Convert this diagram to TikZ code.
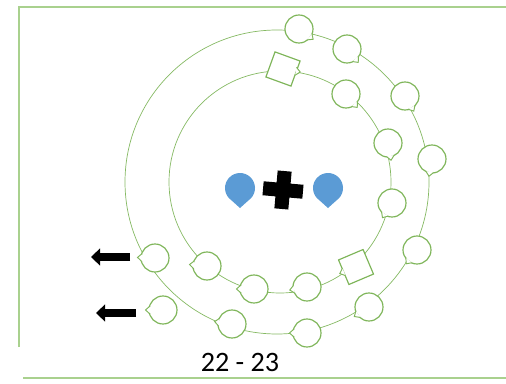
\documentclass[tikz,border=0pt]{standalone}
\usepackage{fontspec}
\setmainfont{Carlito}
\usetikzlibrary{calc,arrows.meta,positioning}
\definecolor{cOrb}{HTML}{70AD47}
\definecolor{cFrame}{HTML}{A9D18E}
\definecolor{cNuc}{HTML}{5B9BD5}
\tikzset{
  orb/.style={cOrb!85,line width=.6pt},
  frm/.style={cFrame,line width=1.5pt},
  elec/.style={circle,draw=cOrb!90,fill=white,line width=1pt,inner sep=0pt,minimum size=.84cm},
  hole/.style={rectangle,draw=cOrb!90,fill=white,line width=1pt,inner sep=0pt,minimum size=.8cm},
  ptr/.style={draw=cOrb!90,fill=white,line width=.8pt,line join=miter},
  nuc/.style={fill=cNuc},
  outarr/.style={-{Triangle[length=.27cm,width=.5cm]},line width=.22cm,black},
  lbl/.style={font=\fontsize{24}{28}\selectfont},
}

\begin{document}
\begin{tikzpicture}[x=.03cm,y=.03cm]
  \useasboundingbox (0,0) rectangle (506,383);
  % frame
  \draw[frm] (19,36) -- (19,376) -- (506,376);
  \draw[frm] (23,5) -- (506,5);
  % shells
  \coordinate (co) at (277,201);
  \coordinate (ci) at (280,201);
  \draw[orb] (co) circle[radius=152];
  \draw[orb] (ci) circle[radius=111];
  % outer shell
  \node[elec] (o1) at (299,354) {};
  \node[elec] (o2) at (347,334) {};
  \node[elec] (o3) at (405,287) {};
  \node[elec] (o4) at (432,224) {};
  \node[elec] (o5) at (417,133) {};
  \node[elec] (o6) at (369,76) {};
  \node[elec] (o7) at (307,50) {};
  \node[elec] (o8) at (232,59) {};
  \node[elec] (o9) at (155,125) {};
  \node[elec] (ol) at (163,73) {};
  % inner shell
  \node[hole,rotate=-20] (i1) at (283,314) {};
  \node[elec] (i2) at (346,289) {};
  \node[elec] (i3) at (388,240) {};
  \node[elec] (i4) at (392,180) {};
  \node[hole,rotate=23] (i5) at (356,116) {};
  \node[elec] (i6) at (307,96) {};
  \node[elec] (i7) at (254,94) {};
  \node[elec] (i8) at (207,117) {};
  % pointers
  \foreach \n/\t in {o1/-36,o2/-50,o3/-60,o4/-100,o5/-128,o6/-147,o7/180,o8/172,o9/178,ol/180,
                     i1/-10,i2/-50,i3/-80,i4/-123,i5/-158,i6/-170,i7/180,i8/175}
    \draw[ptr] ($(\n.center)+({\t+17}:13.6)$) -- ($(\n.center)+(\t:17.5)$) -- ($(\n.center)+({\t-17}:13.6)$);
  % nucleus
  \coordinate (dl) at (240,195);
  \coordinate (dr) at (328,195);
  \coordinate (pl) at (283,193);
  \fill[nuc] (dl) ++(-55:15) arc[start angle=-55,end angle=235,radius=15] -- ($(dl)+(0,-20)$) -- cycle;
  \fill[nuc] (dr) ++(-55:15) arc[start angle=-55,end angle=235,radius=15] -- ($(dr)+(0,-20)$) -- cycle;
  \fill[black,shift={(pl)},rotate=-5] (-20,-7) -- (-7,-7) -- (-7,-19) -- (7,-19) -- (7,-7) -- (20,-7)
    -- (20,7) -- (7,7) -- (7,19) -- (-7,19) -- (-7,7) -- (-20,7) -- cycle;
  % leaving electrons
  \coordinate (a1s) at (130,126);
  \coordinate (a1e) at (91,126);
  \coordinate (a2s) at (136,70);
  \coordinate (a2e) at (96,70);
  \draw[outarr] (a1s) -- (a1e);
  \draw[outarr] (a2s) -- (a2e);
  \node[lbl] (yr) at (240,21) {22 - 23};
\end{tikzpicture}
\end{document}
